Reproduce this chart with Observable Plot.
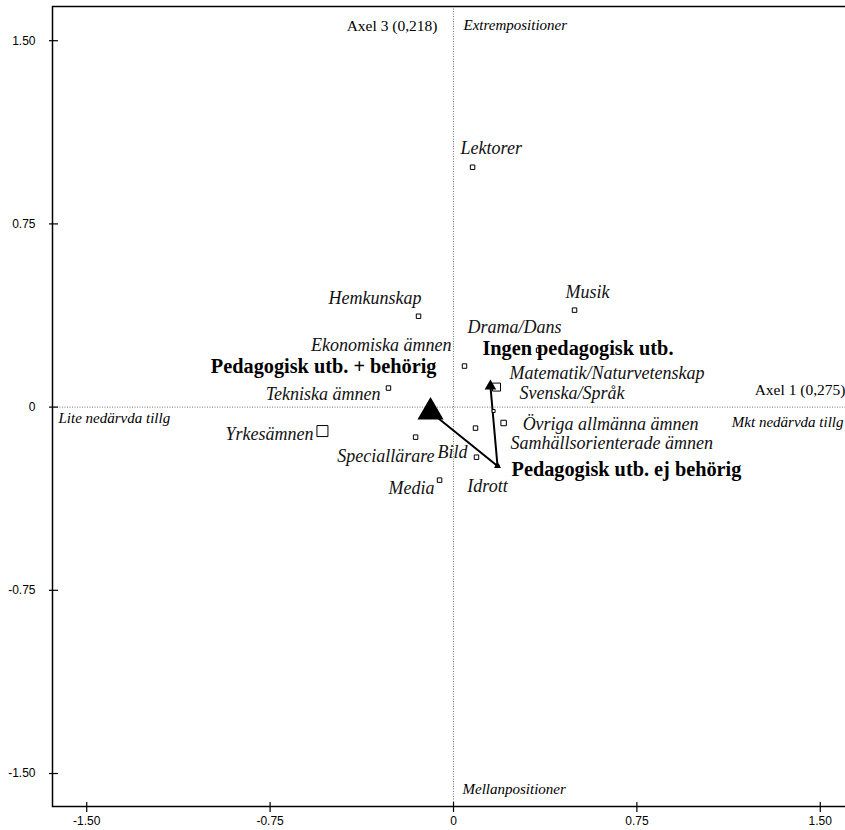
<!DOCTYPE html>
<html>
<head>
<meta charset="utf-8">
<script src="https://cdn.jsdelivr.net/npm/d3@7"></script>
<script src="https://cdn.jsdelivr.net/npm/@observablehq/plot@0.6"></script>
<style>
  html, body { margin: 0; padding: 0; background: #fff; overflow: hidden; }
  #chart svg { max-width: none !important; }
</style>
</head>
<body>
<div id="chart"></div>
<script>
// ---- Data ----
const kategorier = ["Lektorer", "Musik", "Hemkunskap", "Drama/Dans", "Ekonomiska ämnen", "Tekniska ämnen",
  "Matematik/Naturvetenskap", "Svenska/Språk", "Övriga allmänna ämnen", "Samhällsorienterade ämnen",
  "Bild", "Speciallärare", "Media", "Yrkesämnen", "Idrott"];
const katAxel1 = [0.078, 0.495, -0.143, 0.348, 0.045, -0.266, 0.176, 0.164, 0.205, 0.090, 0.094, -0.155, -0.057, -0.536, 0.180];
const katAxel3 = [0.982, 0.397, 0.372, 0.233, 0.168, 0.078, 0.082, -0.016, -0.065, -0.086, -0.205, -0.123, -0.299, -0.098, -0.241];
const katMassa = [20, 20, 20, 20, 20, 20, 64, 9, 30, 20, 20, 20, 20, 121, 9];

const grupper = ["Pedagogisk utb. + behörig", "Pedagogisk utb. ej behörig", "Ingen pedagogisk utb."];
const grAxel1 = [-0.094, 0.180, 0.151];
const grAxel3 = [-0.020, -0.241, 0.086];
const grMassa = [296, 21, 58];

const tickVarden = [-1.5, -0.75, 0, 0.75, 1.5];
const tickEtiketter = ["-1.50", "-0.75", "0", "0.75", "1.50"];

const axelTitelX = "Axel 1 (0,275)";
const axelTitelY = "Axel 3 (0,218)";
const polX = ["Lite nedärvda tillg", "Mkt nedärvda tillg"];
const polY = ["Extrempositioner", "Mellanpositioner"];

// ---- Label layout (styles) ----
const katLayout = {
  "Lektorer": ["start", -12, -19],
  "Musik": ["start", -9, -18],
  "Hemkunskap": ["end", 3, -18],
  "Drama/Dans": ["end", 23, -23],
  "Ekonomiska ämnen": ["end", -13, -21],
  "Tekniska ämnen": ["end", -8, 6],
  "Matematik/Naturvetenskap": ["start", 13, -14],
  "Svenska/Språk": ["start", 26, -18],
  "Övriga allmänna ämnen": ["start", 19, 1],
  "Samhällsorienterade ämnen": ["start", 35, 15],
  "Bild": ["end", -9, -5],
  "Speciallärare": ["end", 19, 19],
  "Media": ["end", -5, 8],
  "Yrkesämnen": ["end", -9, 3],
  "Idrott": ["middle", -10, 20]
};
const grLayout = {
  "Pedagogisk utb. + behörig": ["end", 6, -45],
  "Pedagogisk utb. ej behörig": ["start", 14, 4],
  "Ingen pedagogisk utb.": ["start", -8, -38]
};

const kat = kategorier.map((namn, i) => ({namn, x: katAxel1[i], y: katAxel3[i], massa: katMassa[i]}));
const gr = grupper.map((namn, i) => ({namn, x: grAxel1[i], y: grAxel3[i], massa: grMassa[i]}));

const serif = "'Liberation Serif', 'Times New Roman', serif";
const sans = "'Liberation Sans', Arial, sans-serif";
const fmt = d => tickEtiketter[tickVarden.indexOf(d)];

const marks = [
  Plot.ruleX([0], {stroke: "#777", strokeDasharray: "1,1.5", strokeWidth: 1}),
  Plot.ruleY([0], {stroke: "#777", strokeDasharray: "1,1.5", strokeWidth: 1}),
  Plot.frame({stroke: "black", strokeWidth: 1.5}),
  Plot.axisX(tickVarden, {tickFormat: fmt, tickSize: 10, dy: -4, tickPadding: 4, fontFamily: sans, fontSize: 12, label: null, strokeWidth: 1.2}),
  Plot.axisY(tickVarden, {tickFormat: fmt, tickSize: 9, dx: 6, tickPadding: 14, fontFamily: sans, fontSize: 12, label: null, strokeWidth: 1.2}),
  Plot.line(gr, {x: "x", y: "y", stroke: "black", strokeWidth: 2}),
  Plot.dot(kat, {x: "x", y: "y", r: "massa", symbol: "square", fill: "white", stroke: "black", strokeWidth: 1}),
  Plot.dot(gr, {x: "x", y: "y", r: "massa", symbol: "triangle", fill: "black", stroke: "none"}),
  // axis titles and pole descriptions
  Plot.text([{t: axelTitelX, y: 0}], {y: "y", text: "t", frameAnchor: "right", textAnchor: "end", dx: -9, dy: -17, fontSize: 15.5, fontFamily: serif}),
  Plot.text([{t: polX[0], y: 0}], {y: "y", text: "t", frameAnchor: "left", textAnchor: "start", dx: 6, dy: 11, fontSize: 15, fontStyle: "italic", fontFamily: serif}),
  Plot.text([{t: polX[1], y: 0}], {y: "y", text: "t", frameAnchor: "right", textAnchor: "end", dx: -11, dy: 15, fontSize: 15, fontStyle: "italic", fontFamily: serif}),
  Plot.text([{t: axelTitelY, x: 0}], {x: "x", text: "t", frameAnchor: "top", textAnchor: "end", dx: -16, dy: 13, fontSize: 15.5, fontFamily: serif}),
  Plot.text([{t: polY[0], x: 0}], {x: "x", text: "t", frameAnchor: "top", textAnchor: "start", dx: 10, dy: 13, fontSize: 15, fontStyle: "italic", fontFamily: serif}),
  Plot.text([{t: polY[1], x: 0}], {x: "x", text: "t", frameAnchor: "bottom", textAnchor: "start", dx: 9, dy: -13, fontSize: 15, fontStyle: "italic", fontFamily: serif}),
  // category labels
  ...kat.map(d => {
    const [a, dx, dy] = katLayout[d.namn];
    return Plot.text([d], {x: "x", y: "y", text: "namn", textAnchor: a, dx, dy, fontSize: 18, fontStyle: "italic", fontFamily: serif, fill: "#111"});
  }),
  // group labels
  ...gr.map(d => {
    const [a, dx, dy] = grLayout[d.namn];
    return Plot.text([d], {x: "x", y: "y", text: "namn", textAnchor: a, dx, dy, fontSize: 20.3, fontWeight: "bold", fontFamily: serif, fill: "black"});
  })
];

const chart = Plot.plot({
  width: 854,
  height: 830,
  marginLeft: 52,
  marginRight: 0,
  marginTop: 6,
  marginBottom: 24,
  x: {domain: [-1.64, 1.64]},
  y: {domain: [-1.635, 1.64]},
  r: {type: "sqrt", domain: [0, 300], range: [0, 9.77]},
  style: {fontFamily: serif, background: "white", color: "black", maxWidth: "none"},
  marks
});
document.getElementById("chart").appendChild(chart);
</script>
</body>
</html>
